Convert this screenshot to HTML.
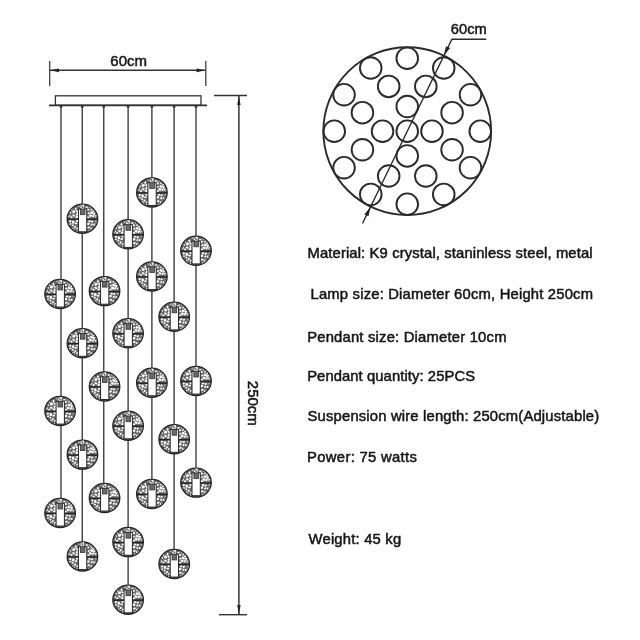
<!DOCTYPE html>
<html><head><meta charset="utf-8"><style>
html,body{margin:0;padding:0;background:#fff;}
svg{display:block;will-change:transform;}
text{font-family:"Liberation Sans",sans-serif;fill:#151515;stroke:#151515;stroke-width:0.5px;}
</style></head><body>
<svg width="640" height="640" viewBox="0 0 640 640">
<defs>
<g id="ball"><ellipse cx="0" cy="0" rx="15.3" ry="14.6" fill="#6a6a6a"/><ellipse cx="-12.2" cy="-5.9" rx="1.15" ry="0.95" transform="rotate(141 -12.2 -5.9)" fill="#fff"/><ellipse cx="9.3" cy="5.8" rx="1.12" ry="0.93" transform="rotate(137 9.3 5.8)" fill="#fff"/><ellipse cx="0.9" cy="-13.2" rx="1.20" ry="0.96" transform="rotate(3 0.9 -13.2)" fill="#fff"/><ellipse cx="6.2" cy="-5.5" rx="1.23" ry="0.81" transform="rotate(153 6.2 -5.5)" fill="#fff"/><ellipse cx="8.0" cy="-3.0" rx="1.57" ry="1.32" transform="rotate(6 8.0 -3.0)" fill="#fff"/><ellipse cx="-3.1" cy="-12.8" rx="1.45" ry="0.80" transform="rotate(161 -3.1 -12.8)" fill="#fff"/><ellipse cx="8.9" cy="-9.7" rx="1.41" ry="0.92" transform="rotate(101 8.9 -9.7)" fill="#fff"/><ellipse cx="4.3" cy="-11.5" rx="1.33" ry="0.96" transform="rotate(128 4.3 -11.5)" fill="#fff"/><ellipse cx="-8.6" cy="-6.9" rx="1.63" ry="1.37" transform="rotate(154 -8.6 -6.9)" fill="#fff"/><ellipse cx="9.1" cy="-5.9" rx="1.59" ry="1.21" transform="rotate(35 9.1 -5.9)" fill="#fff"/><ellipse cx="-8.7" cy="-3.2" rx="1.57" ry="0.93" transform="rotate(27 -8.7 -3.2)" fill="#fff"/><ellipse cx="-7.3" cy="8.2" rx="1.28" ry="0.89" transform="rotate(124 -7.3 8.2)" fill="#fff"/><ellipse cx="-12.3" cy="2.5" rx="1.23" ry="1.08" transform="rotate(161 -12.3 2.5)" fill="#fff"/><ellipse cx="9.7" cy="2.9" rx="1.26" ry="0.90" transform="rotate(147 9.7 2.9)" fill="#fff"/><ellipse cx="-9.7" cy="6.6" rx="1.14" ry="0.76" transform="rotate(25 -9.7 6.6)" fill="#fff"/><ellipse cx="12.3" cy="6.0" rx="1.63" ry="1.19" transform="rotate(2 12.3 6.0)" fill="#fff"/><ellipse cx="7.1" cy="12.0" rx="1.51" ry="0.85" transform="rotate(143 7.1 12.0)" fill="#fff"/><ellipse cx="6.1" cy="8.8" rx="1.60" ry="0.88" transform="rotate(172 6.1 8.8)" fill="#fff"/><ellipse cx="7.1" cy="2.4" rx="1.34" ry="0.88" transform="rotate(175 7.1 2.4)" fill="#fff"/><ellipse cx="11.8" cy="-5.2" rx="1.47" ry="1.28" transform="rotate(47 11.8 -5.2)" fill="#fff"/><ellipse cx="-6.7" cy="-9.9" rx="1.35" ry="0.96" transform="rotate(86 -6.7 -9.9)" fill="#fff"/><ellipse cx="-10.9" cy="-1.4" rx="1.11" ry="0.99" transform="rotate(167 -10.9 -1.4)" fill="#fff"/><ellipse cx="5.5" cy="-9.0" rx="1.36" ry="1.06" transform="rotate(5 5.5 -9.0)" fill="#fff"/><ellipse cx="-0.8" cy="-11.2" rx="1.34" ry="1.00" transform="rotate(17 -0.8 -11.2)" fill="#fff"/><ellipse cx="-9.3" cy="3.5" rx="1.61" ry="1.32" transform="rotate(73 -9.3 3.5)" fill="#fff"/><ellipse cx="-5.3" cy="-4.3" rx="1.44" ry="1.12" transform="rotate(129 -5.3 -4.3)" fill="#fff"/><ellipse cx="-5.6" cy="12.7" rx="1.22" ry="0.86" transform="rotate(149 -5.6 12.7)" fill="#fff"/><ellipse cx="-8.9" cy="10.2" rx="1.64" ry="0.94" transform="rotate(56 -8.9 10.2)" fill="#fff"/><ellipse cx="13.4" cy="-2.4" rx="1.39" ry="1.12" transform="rotate(75 13.4 -2.4)" fill="#fff"/><ellipse cx="-6.4" cy="4.7" rx="1.41" ry="0.91" transform="rotate(6 -6.4 4.7)" fill="#fff"/><ellipse cx="-12.4" cy="5.3" rx="1.40" ry="0.95" transform="rotate(179 -12.4 5.3)" fill="#fff"/><ellipse cx="9.2" cy="10.0" rx="1.59" ry="1.27" transform="rotate(173 9.2 10.0)" fill="#fff"/><ellipse cx="-5.3" cy="-7.2" rx="1.58" ry="1.01" transform="rotate(36 -5.3 -7.2)" fill="#fff"/><ellipse cx="-5.1" cy="9.8" rx="1.15" ry="0.91" transform="rotate(145 -5.1 9.8)" fill="#fff"/><ellipse cx="13.8" cy="3.0" rx="1.36" ry="0.99" transform="rotate(51 13.8 3.0)" fill="#fff"/><ellipse cx="10.7" cy="-2.7" rx="1.34" ry="1.05" transform="rotate(126 10.7 -2.7)" fill="#fff"/><ellipse cx="-13.2" cy="-2.7" rx="1.30" ry="0.90" transform="rotate(149 -13.2 -2.7)" fill="#fff"/><ellipse cx="5.7" cy="5.0" rx="1.63" ry="1.25" transform="rotate(168 5.7 5.0)" fill="#fff"/><ellipse cx="11.1" cy="-8.0" rx="1.45" ry="1.29" transform="rotate(103 11.1 -8.0)" fill="#fff"/><ellipse cx="-10.5" cy="-9.2" rx="1.23" ry="0.90" transform="rotate(106 -10.5 -9.2)" fill="#fff"/><ellipse cx="5.7" cy="-1.4" rx="1.47" ry="0.84" transform="rotate(9 5.7 -1.4)" fill="#fff"/><ellipse cx="-5.6" cy="-1.7" rx="1.55" ry="1.13" transform="rotate(160 -5.6 -1.7)" fill="#fff"/><ellipse cx="7.0" cy="-11.7" rx="1.12" ry="0.68" transform="rotate(69 7.0 -11.7)" fill="#fff"/><ellipse cx="-5.3" cy="2.2" rx="1.46" ry="1.00" transform="rotate(30 -5.3 2.2)" fill="#fff"/><ellipse cx="0" cy="0" rx="14.0" ry="13.3" fill="none" stroke="#555" stroke-width="1.1" stroke-dasharray="1.5 1"/><ellipse cx="0" cy="0" rx="15.3" ry="14.6" fill="none" stroke="#262626" stroke-width="1.25"/><line x1="-15" y1="0.5" x2="15" y2="0.5" stroke="#222" stroke-width="1.4"/><rect x="-4.0" y="-9.7" width="8.3" height="22.8" fill="#fff" stroke="#2a2a2a" stroke-width="1.0"/><rect x="-2.1" y="-9.6" width="4.6" height="5.6" fill="#6a6a6a" stroke="#333" stroke-width="0.8"/><path d="M-1 -14 L1.6 -14 L1.6 -10.2 L-1 -10.2 Z" fill="#fff"/><path d="M-0.3 -13.4 L-0.3 -11.2 L1.2 -11.2" fill="none" stroke="#333" stroke-width="0.8"/></g>
</defs>
<line x1="61.0" y1="105" x2="61.0" y2="512.75" stroke="#383838" stroke-width="1.35"/>
<line x1="82.25" y1="105" x2="82.25" y2="556.25" stroke="#383838" stroke-width="1.35"/>
<line x1="103.75" y1="105" x2="103.75" y2="497.75" stroke="#383838" stroke-width="1.35"/>
<line x1="128.1" y1="105" x2="128.1" y2="599.5" stroke="#383838" stroke-width="1.35"/>
<line x1="151.9" y1="105" x2="151.9" y2="493.75" stroke="#383838" stroke-width="1.35"/>
<line x1="174.1" y1="105" x2="174.1" y2="563.75" stroke="#383838" stroke-width="1.35"/>
<line x1="196.0" y1="105" x2="196.0" y2="482.4" stroke="#383838" stroke-width="1.35"/>
<use href="#ball" x="60.10" y="293.95"/>
<use href="#ball" x="60.10" y="411.00"/>
<use href="#ball" x="60.10" y="512.95"/>
<use href="#ball" x="82.45" y="218.70"/>
<use href="#ball" x="82.45" y="343.20"/>
<use href="#ball" x="82.45" y="454.60"/>
<use href="#ball" x="82.45" y="556.45"/>
<use href="#ball" x="104.55" y="291.10"/>
<use href="#ball" x="104.55" y="386.45"/>
<use href="#ball" x="104.55" y="497.95"/>
<use href="#ball" x="128.10" y="234.30"/>
<use href="#ball" x="128.10" y="333.30"/>
<use href="#ball" x="128.10" y="425.70"/>
<use href="#ball" x="128.10" y="542.10"/>
<use href="#ball" x="128.10" y="599.70"/>
<use href="#ball" x="151.90" y="192.40"/>
<use href="#ball" x="151.90" y="276.45"/>
<use href="#ball" x="151.90" y="382.70"/>
<use href="#ball" x="151.90" y="493.95"/>
<use href="#ball" x="174.20" y="316.80"/>
<use href="#ball" x="174.20" y="439.20"/>
<use href="#ball" x="174.20" y="563.95"/>
<use href="#ball" x="196.00" y="250.80"/>
<use href="#ball" x="196.00" y="381.00"/>
<use href="#ball" x="196.00" y="482.60"/>
<rect x="55.4" y="95.8" width="145.6" height="9.5" fill="#fff" stroke="#333" stroke-width="1.3"/>
<line x1="49" y1="105.3" x2="207" y2="105.3" stroke="#333" stroke-width="1.7"/>
<rect x="59.70" y="105.5" width="2.6" height="2.2" fill="#333"/>
<rect x="80.95" y="105.5" width="2.6" height="2.2" fill="#333"/>
<rect x="102.45" y="105.5" width="2.6" height="2.2" fill="#333"/>
<rect x="126.80" y="105.5" width="2.6" height="2.2" fill="#333"/>
<rect x="150.60" y="105.5" width="2.6" height="2.2" fill="#333"/>
<rect x="172.80" y="105.5" width="2.6" height="2.2" fill="#333"/>
<rect x="194.70" y="105.5" width="2.6" height="2.2" fill="#333"/>
<line x1="49.7" y1="61" x2="49.7" y2="86" stroke="#333" stroke-width="1.2"/>
<line x1="205.8" y1="61" x2="205.8" y2="86" stroke="#333" stroke-width="1.2"/>
<line x1="50" y1="70.3" x2="205.5" y2="70.3" stroke="#333" stroke-width="1.5"/>
<path d="M50 70.3 L59 68.4 L59 72.2 Z" fill="#222"/>
<path d="M205.5 70.3 L196.5 68.4 L196.5 72.2 Z" fill="#222"/>
<text x="110.3" y="65.8" font-size="15">60cm</text>
<line x1="214" y1="95.5" x2="247" y2="95.5" stroke="#333" stroke-width="1.3"/>
<line x1="219" y1="614.7" x2="247" y2="614.7" stroke="#333" stroke-width="1.4"/>
<line x1="238.9" y1="96" x2="238.9" y2="614" stroke="#333" stroke-width="1.5"/>
<path d="M238.9 96 L237.2 105 L240.6 105 Z" fill="#222"/>
<path d="M238.9 614.5 L237.2 605 L240.6 605 Z" fill="#222"/>
<text transform="translate(247.8,380.8) rotate(90)" x="0" y="0" font-size="15">250cm</text>
<circle cx="407.25" cy="131.2" r="83.9" fill="none" stroke="#2b2b2b" stroke-width="1.9"/>
<circle cx="407.25" cy="131.20" r="10.8" fill="none" stroke="#2b2b2b" stroke-width="1.9"/>
<circle cx="431.95" cy="131.20" r="10.8" fill="none" stroke="#2b2b2b" stroke-width="1.9"/>
<circle cx="407.25" cy="155.90" r="10.8" fill="none" stroke="#2b2b2b" stroke-width="1.9"/>
<circle cx="382.55" cy="131.20" r="10.8" fill="none" stroke="#2b2b2b" stroke-width="1.9"/>
<circle cx="407.25" cy="106.50" r="10.8" fill="none" stroke="#2b2b2b" stroke-width="1.9"/>
<circle cx="452.06" cy="149.76" r="10.8" fill="none" stroke="#2b2b2b" stroke-width="1.9"/>
<circle cx="425.81" cy="176.01" r="10.8" fill="none" stroke="#2b2b2b" stroke-width="1.9"/>
<circle cx="388.69" cy="176.01" r="10.8" fill="none" stroke="#2b2b2b" stroke-width="1.9"/>
<circle cx="362.44" cy="149.76" r="10.8" fill="none" stroke="#2b2b2b" stroke-width="1.9"/>
<circle cx="362.44" cy="112.64" r="10.8" fill="none" stroke="#2b2b2b" stroke-width="1.9"/>
<circle cx="388.69" cy="86.39" r="10.8" fill="none" stroke="#2b2b2b" stroke-width="1.9"/>
<circle cx="425.81" cy="86.39" r="10.8" fill="none" stroke="#2b2b2b" stroke-width="1.9"/>
<circle cx="452.06" cy="112.64" r="10.8" fill="none" stroke="#2b2b2b" stroke-width="1.9"/>
<circle cx="480.25" cy="131.20" r="10.8" fill="none" stroke="#2b2b2b" stroke-width="1.9"/>
<circle cx="470.47" cy="167.70" r="10.8" fill="none" stroke="#2b2b2b" stroke-width="1.9"/>
<circle cx="443.75" cy="194.42" r="10.8" fill="none" stroke="#2b2b2b" stroke-width="1.9"/>
<circle cx="407.25" cy="204.20" r="10.8" fill="none" stroke="#2b2b2b" stroke-width="1.9"/>
<circle cx="370.75" cy="194.42" r="10.8" fill="none" stroke="#2b2b2b" stroke-width="1.9"/>
<circle cx="344.03" cy="167.70" r="10.8" fill="none" stroke="#2b2b2b" stroke-width="1.9"/>
<circle cx="334.25" cy="131.20" r="10.8" fill="none" stroke="#2b2b2b" stroke-width="1.9"/>
<circle cx="344.03" cy="94.70" r="10.8" fill="none" stroke="#2b2b2b" stroke-width="1.9"/>
<circle cx="370.75" cy="67.98" r="10.8" fill="none" stroke="#2b2b2b" stroke-width="1.9"/>
<circle cx="407.25" cy="58.20" r="10.8" fill="none" stroke="#2b2b2b" stroke-width="1.9"/>
<circle cx="443.75" cy="67.98" r="10.8" fill="none" stroke="#2b2b2b" stroke-width="1.9"/>
<circle cx="470.47" cy="94.70" r="10.8" fill="none" stroke="#2b2b2b" stroke-width="1.9"/>
<polyline points="362.5,223.5 451.9,39.2 486.3,39.2" fill="none" stroke="#2b2b2b" stroke-width="1.4"/>
<path d="M370.59 206.78 L368.51 216.15 L364.37 214.50 Z" fill="#222"/>
<path d="M443.91 55.62 L450.13 47.90 L445.99 46.25 Z" fill="#222"/>
<text x="450.8" y="33.5" font-size="14.7">60cm</text>
<text x="307.51" y="257.55" font-size="14.8" textLength="285.09" lengthAdjust="spacing">Material: K9 crystal, staninless steel, metal</text>
<text x="310.49" y="298.65" font-size="14.8" textLength="282.54" lengthAdjust="spacing">Lamp size: Diameter 60cm, Height 250cm</text>
<text x="307.16" y="341.50" font-size="14.8" textLength="199.30" lengthAdjust="spacing">Pendant size: Diameter 10cm</text>
<text x="307.13" y="381.15" font-size="14.8" textLength="167.91" lengthAdjust="spacing">Pendant quantity: 25PCS</text>
<text x="307.57" y="421.25" font-size="14.8" textLength="291.61" lengthAdjust="spacing">Suspension wire length: 250cm(Adjustable)</text>
<text x="307.12" y="461.55" font-size="14.8" textLength="109.73" lengthAdjust="spacing">Power: 75 watts</text>
<text x="308.56" y="543.75" font-size="14.8" textLength="92.58" lengthAdjust="spacing">Weight: 45 kg</text>
</svg>
</body></html>
